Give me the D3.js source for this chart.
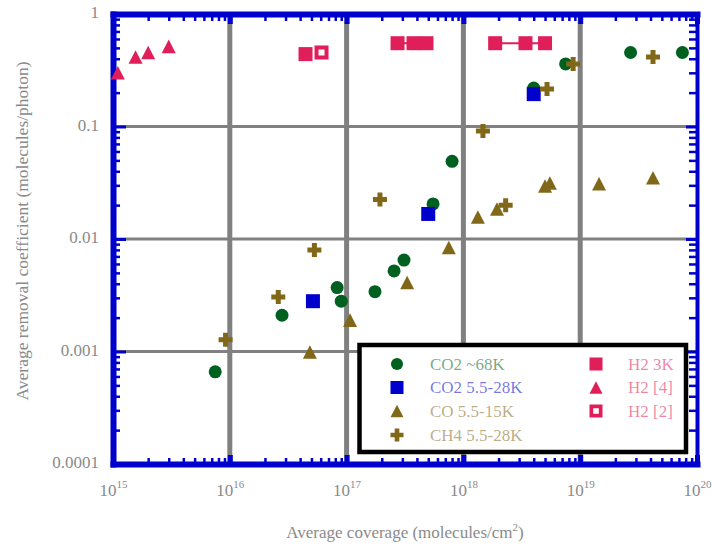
<!DOCTYPE html>
<html>
<head>
<meta charset="utf-8">
<script src="https://cdn.jsdelivr.net/npm/d3@7"></script>
<style>
  html, body { margin: 0; padding: 0; background: #fff; }
  svg { display: block; }
</style>
</head>
<body>
<script>
// ---- axis ticks ----
const yTicks = [1e-4, 1e-3, 1e-2, 1e-1, 1];
const yTickLabels = ["0.0001", "0.001", "0.01", "0.1", "1"];
const xTicks = [1e15, 1e16, 1e17, 1e18, 1e19, 1e20];
const xTickExponents = ["15", "16", "17", "18", "19", "20"];

// ---- series: coverage (molecules/cm2) and removal coefficient (molecules/photon) ----
const co2HighCoverage = [7.5e15, 2.8e16, 8.3e16, 9.0e16, 1.75e17, 2.55e17, 3.1e17, 5.5e17, 8.0e17, 4.0e18, 7.5e18, 2.7e19, 7.5e19];
const co2HighCoef     = [6.6e-4, 2.1e-3, 3.7e-3, 2.8e-3, 3.4e-3, 5.2e-3, 6.5e-3, 0.0205, 0.049, 0.22, 0.36, 0.455, 0.455];

const co2LowCoverage = [5.15e16, 5.0e17, 4.0e18];
const co2LowCoef     = [2.8e-3, 0.0167, 0.194];

const coCoverage = [4.85e16, 1.07e17, 3.3e17, 7.5e17, 1.33e18, 1.94e18, 5.0e18, 5.5e18, 1.45e19, 4.2e19];
const coCoef     = [9.9e-4, 1.9e-3, 4.1e-3, 8.4e-3, 0.0157, 0.0185, 0.0296, 0.0315, 0.031, 0.035];

const ch4Coverage = [9.2e15, 2.6e16, 5.3e16, 1.93e17, 1.47e18, 2.3e18, 5.2e18, 8.7e18, 4.2e19];
const ch4Coef     = [1.27e-3, 3.05e-3, 8.0e-3, 0.0224, 0.091, 0.020, 0.215, 0.36, 0.415];

const h2ColdCoverage = [4.45e16, 2.73e17, 3.74e17, 4.83e17, 1.87e18, 3.4e18, 5.0e18];
const h2ColdCoef     = [0.44, 0.55, 0.55, 0.55, 0.55, 0.55, 0.55];
const h2ColdRun      = [0, 1, 1, 1, 2, 2, 2];

const h2Ref4Coverage = [1.1e15, 1.56e15, 2.0e15, 3.0e15];
const h2Ref4Coef     = [0.30, 0.415, 0.455, 0.515];

const h2Ref2Coverage = [6.1e16];
const h2Ref2Coef     = [0.455];

const legendLabels = ["CO2 ~68K", "CO2 5.5-28K", "CO 5.5-15K", "CH4 5.5-28K", "H2 3K", "H2 [4]", "H2 [2]"];

// ---- styling ----
const W = 712, H = 546;
const FONT = "'Liberation Serif','Times New Roman',serif";
const FRAME = "#0000cc";
const GRID = "#808080";
const LABEL = "#8a8a8a";
const GREEN = "#006020", BLUE = "#0000cc", OLIVE = "#806818", PINK = "#e01e5a";

const series = [
  { label: legendLabels[0], xs: co2HighCoverage, ys: co2HighCoef, color: GREEN, shape: "circle" },
  { label: legendLabels[1], xs: co2LowCoverage,  ys: co2LowCoef,  color: BLUE,  shape: "square" },
  { label: legendLabels[2], xs: coCoverage,      ys: coCoef,      color: OLIVE, shape: "triangle" },
  { label: legendLabels[3], xs: ch4Coverage,     ys: ch4Coef,     color: OLIVE, shape: "cross" },
  { label: legendLabels[4], xs: h2ColdCoverage,  ys: h2ColdCoef,  color: PINK,  shape: "square", runs: h2ColdRun },
  { label: legendLabels[5], xs: h2Ref4Coverage,  ys: h2Ref4Coef,  color: PINK,  shape: "triangle" },
  { label: legendLabels[6], xs: h2Ref2Coverage,  ys: h2Ref2Coef,  color: PINK,  shape: "open" }
];

const x = d3.scaleLog().domain([1e15, 1e20]).range([113, 697]);
const y = d3.scaleLog().domain([1e-4, 1]).range([464, 14]);

const svg = d3.select("body").append("svg").attr("width", W).attr("height", H);

// ---- grid ----
const grid = svg.append("g");
grid.selectAll("line.v").data(xTicks.slice(1, -1)).join("line").attr("class", "v")
  .attr("x1", d => x(d)).attr("x2", d => x(d))
  .attr("y1", y(1)).attr("y2", y(1e-4))
  .attr("stroke", GRID).attr("stroke-width", 5);
grid.selectAll("line.h").data(yTicks.slice(1, -1)).join("line").attr("class", "h")
  .attr("x1", x(1e15)).attr("x2", x(1e20))
  .attr("y1", d => y(d)).attr("y2", d => y(d))
  .attr("stroke", GRID).attr("stroke-width", 3);

// ---- frame axes with inward ticks ----
const isDecade = d => Math.abs(Math.log10(d) - Math.round(Math.log10(d))) < 1e-6;
const minorX = x.ticks().filter(d => !isDecade(d));
const minorY = y.ticks().filter(d => !isDecade(d));

function frame(g, domainWidth, tickWidth) {
  g.attr("font-family", FONT).attr("font-size", 17);
  g.select(".domain").attr("stroke", FRAME).attr("stroke-width", domainWidth)
    .attr("stroke-linecap", "square");
  g.selectAll(".tick line").attr("stroke", FRAME).attr("stroke-width", tickWidth);
  g.selectAll(".tick text").attr("fill", LABEL);
}
function minor(g, tickWidth) {
  g.select(".domain").remove();
  g.selectAll(".tick line").attr("stroke", FRAME).attr("stroke-width", tickWidth);
}

const x0 = x.range()[0], x1 = x.range()[1], yb = y.range()[0], yt = y.range()[1];

svg.append("g").attr("transform", `translate(0,${yb})`)
  .call(d3.axisBottom(x).tickValues(minorX).tickSizeInner(-6).tickSizeOuter(0).tickFormat(""))
  .call(minor, 2.5);
svg.append("g").attr("transform", `translate(0,${yt})`)
  .call(d3.axisTop(x).tickValues(minorX).tickSizeInner(-7).tickSizeOuter(0).tickFormat(""))
  .call(minor, 2.5);
svg.append("g").attr("transform", `translate(${x0},0)`)
  .call(d3.axisLeft(y).tickValues(minorY).tickSizeInner(-7).tickSizeOuter(0).tickFormat(""))
  .call(minor, 2.5);
svg.append("g").attr("transform", `translate(${x1},0)`)
  .call(d3.axisRight(y).tickValues(minorY).tickSizeInner(-8).tickSizeOuter(0).tickFormat(""))
  .call(minor, 2.5);

const bottom = svg.append("g").attr("transform", `translate(0,${yb})`)
  .call(d3.axisBottom(x).tickValues(xTicks).tickSizeInner(-9).tickSizeOuter(0).tickPadding(20))
  .call(frame, 6, 5);
bottom.selectAll(".tick text").text(null).each(function (d, i) {
  const t = d3.select(this);
  t.append("tspan").text("10");
  t.append("tspan").attr("font-size", 11).attr("dy", "-0.75em").text(xTickExponents[i]);
});

svg.append("g").attr("transform", `translate(0,${yt})`)
  .call(d3.axisTop(x).tickValues(xTicks).tickSizeInner(-10).tickSizeOuter(0).tickFormat(""))
  .call(frame, 6, 5);

svg.append("g").attr("transform", `translate(${x0},0)`)
  .call(d3.axisLeft(y).tickValues(yTicks).tickFormat((d, i) => yTickLabels[i])
    .tickSizeInner(-13).tickSizeOuter(0).tickPadding(14))
  .call(frame, 6, 3)
  .selectAll(".tick text").attr("dy", "0.22em");

svg.append("g").attr("transform", `translate(${x1},0)`)
  .call(d3.axisRight(y).tickValues(yTicks).tickSizeInner(-11).tickSizeOuter(0).tickFormat(""))
  .call(frame, 4, 3);

// ---- axis titles ----
const xTitle = svg.append("text")
  .attr("x", 405).attr("y", 538)
  .attr("text-anchor", "middle").attr("font-family", FONT).attr("font-size", 17)
  .attr("fill", LABEL);
xTitle.append("tspan").text("Average coverage (molecules/cm");
xTitle.append("tspan").attr("font-size", 11).attr("dy", "-0.6em").text("2");
xTitle.append("tspan").attr("dy", "0.4em").text(")");

svg.append("text")
  .attr("transform", "translate(28,231) rotate(-90)")
  .attr("text-anchor", "middle").attr("font-family", FONT).attr("font-size", 17.5)
  .attr("fill", LABEL)
  .text("Average removal coefficient (molecules/photon)");

// ---- marker shapes (centred on their bounding box) ----
function shapePath(shape) {
  switch (shape) {
    case "circle":   return d3.arc()({ innerRadius: 0, outerRadius: 6.5, startAngle: 0, endAngle: 2 * Math.PI });
    case "square":   return "M-7,-7H7V7H-7Z";
    case "triangle": return "M0,-6.8L7,6.8H-7Z";
    case "cross":    return "M-2.5,-7H2.5V-2.5H7V2.5H2.5V7H-2.5V2.5H-7V-2.5H-2.5Z";
    case "open":     return "M-7,-7H7V7H-7Z M-3,-3V3H3V-3Z";
  }
}
function drawMarker(g, shape, color) {
  g.append("path").attr("d", shapePath(shape)).attr("fill", color)
    .attr("fill-rule", "evenodd");
}

// ---- connecting lines for the H2 3K runs ----
const h2Cold = series[4];
const runs = d3.groups(d3.range(h2Cold.xs.length), i => h2Cold.runs[i]);
const line = d3.line().x(i => x(h2Cold.xs[i])).y(i => y(h2Cold.ys[i]));
svg.append("g").selectAll("path").data(runs.filter(r => r[1].length > 1)).join("path")
  .attr("d", r => line(r[1]))
  .attr("fill", "none").attr("stroke", PINK).attr("stroke-width", 2);

// ---- markers ----
series.forEach(s => {
  const g = svg.append("g");
  s.xs.forEach((cov, i) => {
    const m = g.append("g").attr("transform", `translate(${x(cov)},${y(s.ys[i])})`);
    drawMarker(m, s.shape, s.color);
  });
});

// ---- legend ----
const legend = svg.append("g");
legend.append("rect")
  .attr("x", 359.5).attr("y", 345).attr("width", 326.5).attr("height", 107)
  .attr("fill", "#fff").attr("stroke", "#000").attr("stroke-width", 4.5);

const colX = [{ sym: 397, txt: 430 }, { sym: 596, txt: 628 }];
const rowY = [364, 387.5, 411, 435];
series.forEach((s, k) => {
  const col = k < 4 ? 0 : 1;
  const row = k < 4 ? k : k - 4;
  const m = legend.append("g").attr("transform", `translate(${colX[col].sym},${rowY[row]})`);
  m.append("path").attr("d", shapePath(s.shape)).attr("fill", s.color).attr("fill-rule", "evenodd")
    .attr("transform", "scale(0.93)");
  legend.append("text")
    .attr("x", colX[col].txt).attr("y", rowY[row]).attr("dy", "0.35em")
    .attr("font-family", FONT).attr("font-size", 17)
    .attr("fill", s.color).attr("fill-opacity", 0.55)
    .text(s.label);
});
</script>
</body>
</html>
